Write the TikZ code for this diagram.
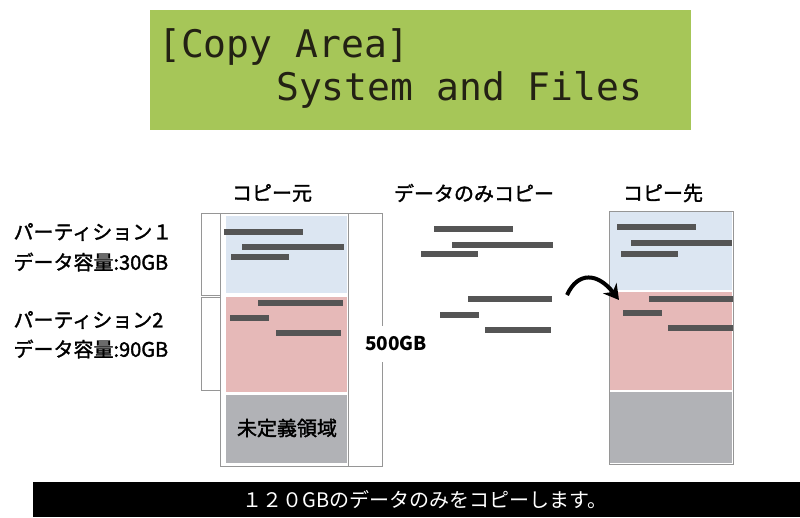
\documentclass[tikz,border=0pt]{standalone}
\usepackage{fontspec}
\usepackage{tikz}
\usetikzlibrary{arrows.meta}
\newfontfamily\jp{Noto Sans CJK JP}
\newfontfamily\jpmed[FakeBold=1.6]{Noto Sans CJK JP}
\newfontfamily\lcd{DejaVu Sans Mono}
\definecolor{lcdgreen}{RGB}{166,198,88}
\definecolor{lcdink}{RGB}{35,33,20}
\definecolor{pblue}{RGB}{220,230,242}
\definecolor{pred}{RGB}{230,185,184}
\definecolor{pgray}{RGB}{177,178,182}
\definecolor{dbar}{RGB}{85,85,85}
\definecolor{boxline}{RGB}{150,150,150}

\begin{document}
\begin{tikzpicture}[x=1pt, y=-1pt,
  databar/.style={fill=dbar},
  boxframe/.style={draw=boxline, line width=0.8pt},
  bracketline/.style={draw=boxline, line width=0.8pt},
  jptext/.style={font=\jp\fontsize{20}{24}\selectfont},
  jpbold/.style={font=\jpmed\fontsize{20}{24}\selectfont},
  lcdtext/.style={font=\lcd\fontsize{38}{40}\selectfont, text=lcdink, inner sep=0pt}]
\useasboundingbox (0,0) rectangle (800,517);
\fill[lcdgreen] (150,10) rectangle (691,130);
\node[lcdtext, anchor=base west] (copyarea) at (158,57) {[Copy Area]};
\node[lcdtext, anchor=base west] (sysfiles) at (276,100) {System and Files};

\node[jpbold] (srchead) at (272,193) {コピー元};
\node[jpbold] (midhead) at (474,193) {データのみコピー};
\node[jpbold] (dsthead) at (663,193) {コピー先};

\node[jpbold, anchor=west] (part1) at (10,232) {パーティション１};
\node[jpbold, anchor=west] (size1) at (10,262) {データ容量:30GB};
\node[jpbold, anchor=west] (part2) at (10,320) {パーティション2};
\node[jpbold, anchor=west] (size2) at (10,349) {データ容量:90GB};

\draw[bracketline] (220,213) -- (201,213) -- (201,295) -- (220,295);
\draw[bracketline] (220,297) -- (201,297) -- (201,390) -- (220,390);

\fill[pblue] (226,216) rectangle (347,293);
\fill[pred] (226,297) rectangle (347,392);
\fill[pgray] (226,395) rectangle (347,463);
\draw[boxframe] (220,213) rectangle (348,466);
\node[jpbold] (undef) at (287,428) {未定義領域};

\node[font=\jp\bfseries\fontsize{19}{22}\selectfont] (disk) at (396,343) {500GB};
\draw[bracketline] (348,213) -- (382,213) -- (382,326);
\draw[bracketline] (382,362) -- (382,466) -- (348,466);

\fill[databar] (224,229) rectangle (303,235);
\fill[databar] (242,244) rectangle (344,250);
\fill[databar] (231,254) rectangle (289,260);
\fill[databar] (258,300) rectangle (343,306);
\fill[databar] (230,315) rectangle (269,321);
\fill[databar] (276,330) rectangle (341,336);

\fill[databar] (434,226) rectangle (513,232);
\fill[databar] (452,242) rectangle (553,248);
\fill[databar] (421,251) rectangle (478,257);
\fill[databar] (468,296) rectangle (552,302);
\fill[databar] (440,312) rectangle (479,318);
\fill[databar] (485,327) rectangle (551,333);

\fill[pblue] (610,212) rectangle (732,290);
\fill[pred] (610,292) rectangle (732,390);
\fill[pgray] (610,392) rectangle (732,463);
\draw[boxframe] (609,211) rectangle (733,464);

\fill[databar] (617,224) rectangle (696,230);
\fill[databar] (631,240) rectangle (732,246);
\fill[databar] (621,251) rectangle (678,257);
\fill[databar] (649,296) rectangle (733,302);
\fill[databar] (623,310) rectangle (662,316);
\fill[databar] (668,325) rectangle (733,331);

\coordinate (arrowfrom) at (567,295);
\coordinate (arrowto) at (619,300);
\draw[line width=4pt, -{Stealth[length=15pt, width=17pt]}] (arrowfrom) .. controls (578,271) and (598,273) .. (arrowto);

\fill[black] (33,482) rectangle (800,517);
\node[jptext, text=white] (note) at (425,500) {１２０GBのデータのみをコピーします。};
\end{tikzpicture}
\end{document}
